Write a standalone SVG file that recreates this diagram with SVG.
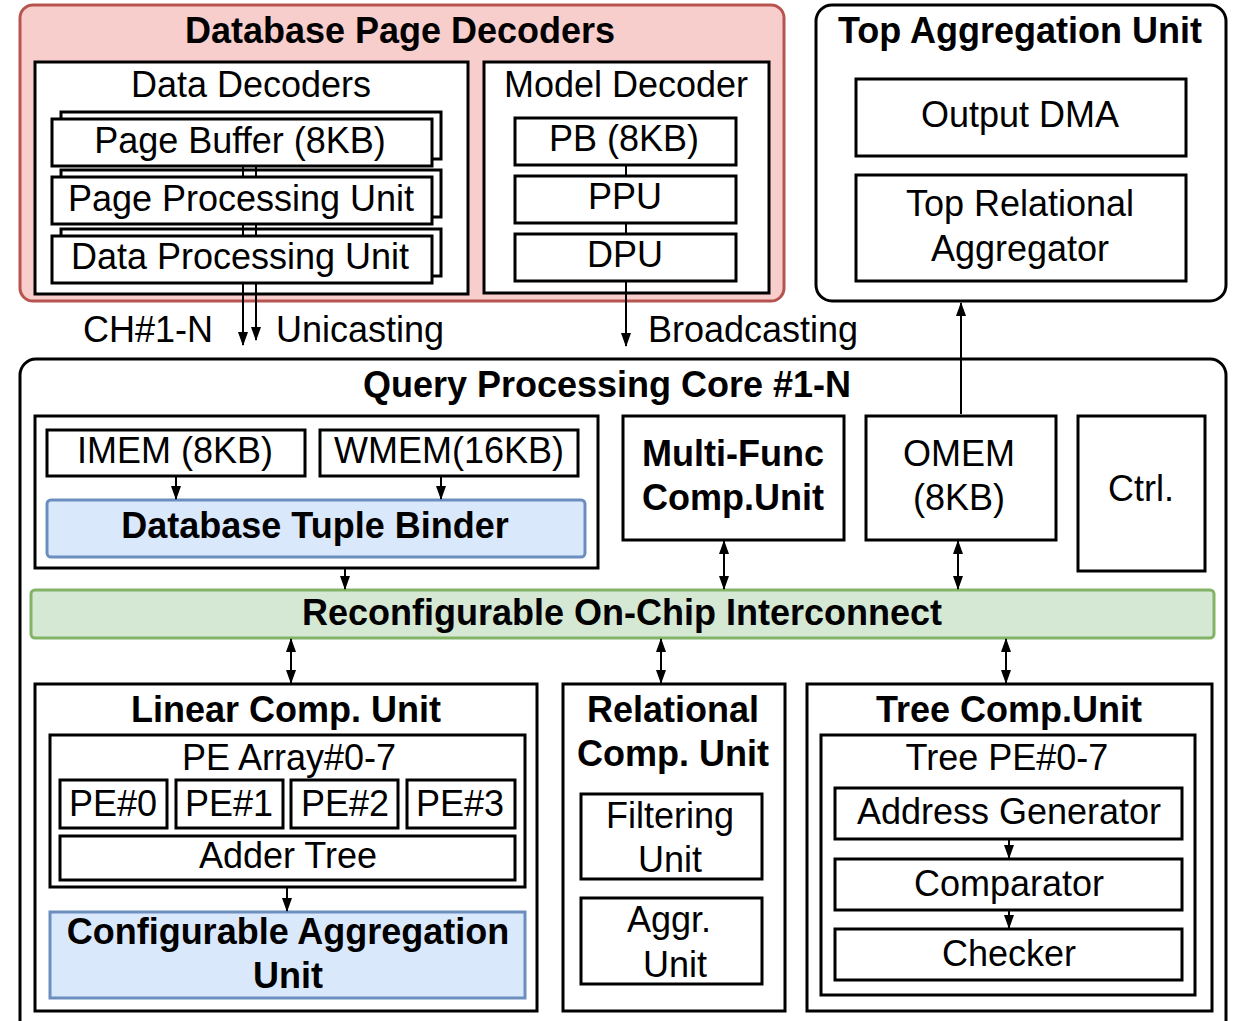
<svg xmlns="http://www.w3.org/2000/svg" width="1235" height="1021" viewBox="0 0 1235 1021">
<style>
text{font-family:"Liberation Sans",Arial,Helvetica,sans-serif;font-size:36px;fill:#000;text-anchor:middle}
.b{font-weight:bold}
.s{text-anchor:start}
.box{fill:#fff;stroke:#000;stroke-width:3}
.pink{fill:#f8cecc;stroke:#b85450;stroke-width:3}
.blue{fill:#dae8fc;stroke:#6c8ebf;stroke-width:3}
.green{fill:#d5e8d4;stroke:#82b366;stroke-width:3}
.ln{stroke:#000;stroke-width:2;fill:none}
.ar{stroke:#000;stroke-width:2;fill:none;marker-end:url(#ah)}
.dar{stroke:#000;stroke-width:2;fill:none;marker-end:url(#ah);marker-start:url(#ah)}
</style>
<defs>
<marker id="ah" viewBox="0 0 14 10" refX="13" refY="5" markerWidth="14" markerHeight="10" markerUnits="userSpaceOnUse" orient="auto-start-reverse">
<path d="M0,0 L14,5 L0,10 z" fill="#000"/>
</marker>
</defs>
<rect width="1235" height="1021" fill="#fff"/>

<g id="db-page-decoders">
<rect class="pink" x="20" y="5" width="764" height="296" rx="13"/>
<text class="b" x="400" y="43">Database Page Decoders</text>
</g>
<g id="data-decoders">
<rect class="box" x="35" y="62" width="433" height="232"/>
<text x="251" y="97">Data Decoders</text>
</g>
<g id="page-buffer">
<rect class="box" x="61" y="112" width="380" height="47"/>
<rect class="box" x="52" y="119" width="380" height="47"/>
<text x="240" y="153">Page Buffer (8KB)</text>
</g>
<g id="page-processing-unit">
<rect class="box" x="61" y="170" width="380" height="47"/>
<rect class="box" x="52" y="177" width="380" height="47"/>
<text x="241" y="211">Page Processing Unit</text>
</g>
<g id="data-processing-unit">
<rect class="box" x="61" y="229" width="380" height="47"/>
<rect class="box" x="52" y="236" width="380" height="47"/>
<text x="240" y="269">Data Processing Unit</text>
</g>
<g id="model-decoder">
<rect class="box" x="484" y="62" width="285" height="231"/>
<text x="626" y="97">Model Decoder</text>
</g>
<g id="pb">
<rect class="box" x="515" y="118" width="221" height="47"/>
<text x="624" y="151">PB (8KB)</text>
</g>
<g id="ppu">
<rect class="box" x="515" y="176" width="221" height="47"/>
<text x="625" y="209">PPU</text>
</g>
<g id="dpu">
<rect class="box" x="515" y="234" width="221" height="47"/>
<text x="625" y="267">DPU</text>
</g>

<g id="top-aggregation-unit">
<rect class="box" x="816" y="5" width="410" height="296" rx="16"/>
<text class="b" x="1020" y="43">Top Aggregation Unit</text>
</g>
<g id="output-dma">
<rect class="box" x="856" y="79" width="330" height="77"/>
<text x="1020" y="127">Output DMA</text>
</g>
<g id="top-relational-aggregator">
<rect class="box" x="856" y="175" width="330" height="106"/>
<text x="1020" y="216">Top Relational</text>
<text x="1020" y="261">Aggregator</text>
</g>

<g id="labels">
<text x="148" y="342">CH#1-N</text>
<text class="s" x="276" y="342">Unicasting</text>
<text class="s" x="648" y="342">Broadcasting</text>
</g>

<g id="query-processing-core">
<rect class="box" x="20" y="359" width="1206" height="680" rx="16"/>
<text class="b" x="607" y="397">Query Processing Core #1-N</text>
</g>
<g id="binder-group">
<rect class="box" x="35" y="416" width="563" height="152"/>
</g>
<g id="imem">
<rect class="box" x="47" y="430" width="258" height="46"/>
<text x="175" y="463">IMEM (8KB)</text>
</g>
<g id="wmem">
<rect class="box" x="320" y="430" width="258" height="46"/>
<text x="449" y="463">WMEM(16KB)</text>
</g>
<g id="tuple-binder">
<rect class="blue" x="47" y="500" width="538" height="57" rx="4"/>
<text class="b" x="315" y="538">Database Tuple Binder</text>
</g>
<g id="multi-func">
<rect class="box" x="623" y="416" width="221" height="124"/>
<text class="b" x="733" y="466">Multi-Func</text>
<text class="b" x="733" y="510">Comp.Unit</text>
</g>
<g id="omem">
<rect class="box" x="866" y="416" width="190" height="124"/>
<text x="959" y="466">OMEM</text>
<text x="959" y="510">(8KB)</text>
</g>
<g id="ctrl">
<rect class="box" x="1078" y="416" width="127" height="155"/>
<text x="1141" y="501">Ctrl.</text>
</g>
<g id="interconnect">
<rect class="green" x="31" y="590" width="1183" height="48" rx="4"/>
<text class="b" x="622" y="625">Reconfigurable On-Chip Interconnect</text>
</g>

<g id="linear-comp-unit">
<rect class="box" x="35" y="684" width="502" height="327"/>
<text class="b" x="286" y="722">Linear Comp. Unit</text>
</g>
<g id="pe-array">
<rect class="box" x="50" y="735" width="475" height="152"/>
<text x="289" y="770">PE Array#0-7</text>
</g>
<g id="pe0"><rect class="box" x="60" y="780" width="107" height="48"/><text x="113" y="816">PE#0</text></g>
<g id="pe1"><rect class="box" x="176" y="780" width="107" height="48"/><text x="229" y="816">PE#1</text></g>
<g id="pe2"><rect class="box" x="291" y="780" width="107" height="48"/><text x="345" y="816">PE#2</text></g>
<g id="pe3"><rect class="box" x="407" y="780" width="108" height="48"/><text x="460" y="816">PE#3</text></g>
<g id="adder-tree">
<rect class="box" x="60" y="836" width="455" height="44"/>
<text x="288" y="868">Adder Tree</text>
</g>
<g id="config-agg-unit">
<rect class="blue" x="50" y="912" width="475" height="86"/>
<text class="b" x="288" y="944">Configurable Aggregation</text>
<text class="b" x="288" y="988">Unit</text>
</g>

<g id="relational-comp-unit">
<rect class="box" x="563" y="684" width="222" height="327"/>
<text class="b" x="673" y="722">Relational</text>
<text class="b" x="673" y="766">Comp. Unit</text>
</g>
<g id="filtering-unit">
<rect class="box" x="581" y="794" width="181" height="85"/>
<text x="670" y="828">Filtering</text>
<text x="670" y="872">Unit</text>
</g>
<g id="aggr-unit">
<rect class="box" x="581" y="898" width="181" height="86"/>
<text x="669" y="932">Aggr.</text>
<text x="675" y="977">Unit</text>
</g>

<g id="tree-comp-unit">
<rect class="box" x="807" y="684" width="405" height="327"/>
<text class="b" x="1009" y="722">Tree Comp.Unit</text>
</g>
<g id="tree-pe">
<rect class="box" x="821" y="735" width="374" height="260"/>
<text x="1007" y="770">Tree PE#0-7</text>
</g>
<g id="address-generator">
<rect class="box" x="835" y="788" width="347" height="51"/>
<text x="1009" y="824">Address Generator</text>
</g>
<g id="comparator">
<rect class="box" x="835" y="859" width="347" height="51"/>
<text x="1009" y="896">Comparator</text>
</g>
<g id="checker">
<rect class="box" x="835" y="929" width="347" height="51"/>
<text x="1009" y="966">Checker</text>
</g>

<g id="connectors">
<line class="ln" x1="243" y1="167" x2="243" y2="176"/>
<line class="ln" x1="256" y1="167" x2="256" y2="176"/>
<line class="ln" x1="243" y1="225" x2="243" y2="235"/>
<line class="ln" x1="256" y1="225" x2="256" y2="235"/>
<line class="ar" x1="243" y1="284" x2="243" y2="345"/>
<line class="ar" x1="256" y1="284" x2="256" y2="340"/>
<line class="ln" x1="626" y1="166" x2="626" y2="175"/>
<line class="ln" x1="626" y1="224" x2="626" y2="233"/>
<line class="ar" x1="626" y1="282" x2="626" y2="346"/>
<line class="ar" x1="961" y1="414" x2="961" y2="303"/>
<line class="ar" x1="176" y1="477" x2="176" y2="499"/>
<line class="ar" x1="441" y1="477" x2="441" y2="499"/>
<line class="ar" x1="345" y1="569" x2="345" y2="589"/>
<line class="dar" x1="724" y1="541" x2="724" y2="589"/>
<line class="dar" x1="958" y1="541" x2="958" y2="589"/>
<line class="dar" x1="291" y1="639" x2="291" y2="683"/>
<line class="dar" x1="661" y1="639" x2="661" y2="683"/>
<line class="dar" x1="1006" y1="639" x2="1006" y2="683"/>
<line class="ar" x1="287" y1="888" x2="287" y2="911"/>
<line class="ar" x1="1009" y1="840" x2="1009" y2="858"/>
<line class="ar" x1="1009" y1="911" x2="1009" y2="928"/>
</g>
</svg>
